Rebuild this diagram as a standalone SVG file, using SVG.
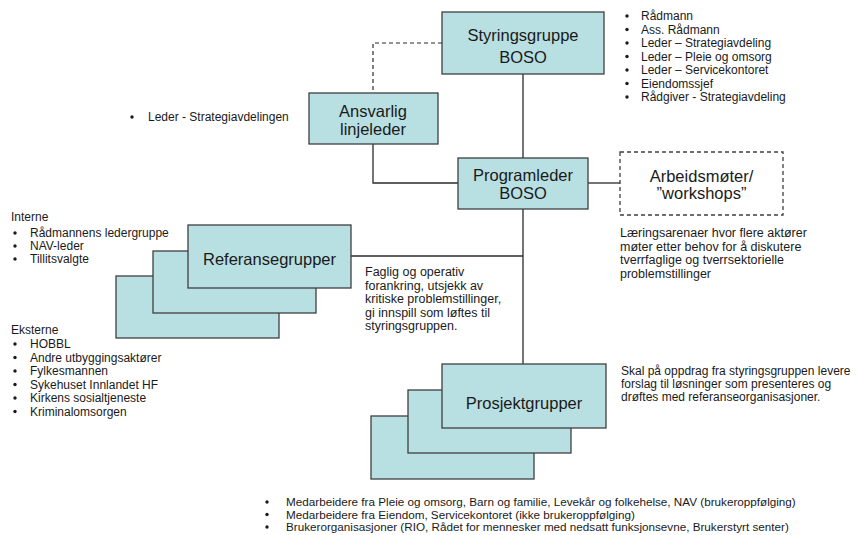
<svg xmlns="http://www.w3.org/2000/svg" width="856" height="535" viewBox="0 0 856 535">
  <style>
    .box { fill: #b8dfe1; stroke: #3f3f3f; stroke-width: 1.3; }
    .dbox { fill: #ffffff; stroke: #3f3f3f; stroke-width: 1.3; stroke-dasharray: 4 3; }
    .line { fill: none; stroke: #2b2b2b; stroke-width: 1.3; }
    .dash { fill: none; stroke: #2b2b2b; stroke-width: 1.2; stroke-dasharray: 4 3; }
    .big { font-family: "Liberation Sans", Arial, sans-serif; font-size: 16.5px; fill: #1a1a1a; text-anchor: middle; }
    .small { font-family: "Liberation Sans", Arial, sans-serif; font-size: 12px; fill: #1a1a1a; }
    .note { font-size: 12.5px; }
    .foot { font-size: 11.7px; }
    .dot { fill: #1a1a1a; }
  </style>
  <rect width="856" height="535" fill="#ffffff"/>

  <!-- connectors -->
  <g id="connectors">
    <path class="dash" d="M442,43 H373 V93"/>
    <path class="line" d="M523,74 V158"/>
    <path class="line" d="M373,144 V183 H458"/>
    <path class="line" d="M588,183 H620"/>
    <path class="line" d="M523,209 V364"/>
    <path class="line" d="M351,256 H523"/>
  </g>

  <!-- steering group -->
  <g id="styringsgruppe">
    <rect class="box" x="442" y="12" width="162" height="62"/>
    <text class="big" x="523" y="41">Styringsgruppe</text>
    <text class="big" x="523" y="63">BOSO</text>
  </g>

  <g id="styringsgruppe-members" class="small">
    <circle class="dot" cx="627" cy="16" r="1.7"/><text x="641" y="20">Rådmann</text>
    <circle class="dot" cx="627" cy="29.5" r="1.7"/><text x="641" y="33.5">Ass. Rådmann</text>
    <circle class="dot" cx="627" cy="43" r="1.7"/><text x="641" y="47">Leder – Strategiavdeling</text>
    <circle class="dot" cx="627" cy="56.5" r="1.7"/><text x="641" y="60.5">Leder – Pleie og omsorg</text>
    <circle class="dot" cx="627" cy="70" r="1.7"/><text x="641" y="74">Leder – Servicekontoret</text>
    <circle class="dot" cx="627" cy="83.5" r="1.7"/><text x="641" y="87.5">Eiendomssjef</text>
    <circle class="dot" cx="627" cy="97" r="1.7"/><text x="641" y="101">Rådgiver - Strategiavdeling</text>
  </g>

  <!-- responsible line manager -->
  <g id="ansvarlig-linjeleder">
    <rect class="box" x="309" y="93" width="129" height="51"/>
    <text class="big" x="373" y="117">Ansvarlig</text>
    <text class="big" x="373" y="135">linjeleder</text>
  </g>
  <g id="linjeleder-members" class="small">
    <circle class="dot" cx="132" cy="117" r="1.7"/><text x="148" y="121">Leder - Strategiavdelingen</text>
  </g>

  <!-- programme manager -->
  <g id="programleder">
    <rect class="box" x="458" y="158" width="130" height="51"/>
    <text class="big" x="523" y="181">Programleder</text>
    <text class="big" x="523" y="199">BOSO</text>
  </g>

  <!-- workshops -->
  <g id="arbeidsmoter">
    <rect class="dbox" x="620" y="152" width="163" height="63"/>
    <text class="big" x="701.5" y="182">Arbeidsmøter/</text>
    <text class="big" x="701.5" y="199">”workshops”</text>
  </g>
  <g id="arbeidsmoter-note" class="small note">
    <text x="620" y="237">Læringsarenaer hvor flere aktører</text>
    <text x="620" y="250.5">møter etter behov for å diskutere</text>
    <text x="620" y="264">tverrfaglige og tverrsektorielle</text>
    <text x="620" y="277.5">problemstillinger</text>
  </g>

  <!-- reference groups -->
  <g id="referansegrupper">
    <rect class="box" x="116" y="276" width="163" height="62"/>
    <rect class="box" x="153" y="251" width="163" height="62"/>
    <rect class="box" x="188" y="225" width="163" height="63"/>
    <text class="big" x="269.5" y="265">Referansegrupper</text>
  </g>
  <g id="referansegrupper-note" class="small note">
    <text x="365" y="276">Faglig og operativ</text>
    <text x="365" y="289.5">forankring, utsjekk av</text>
    <text x="365" y="303">kritiske problemstillinger,</text>
    <text x="365" y="316.5">gi innspill som løftes til</text>
    <text x="365" y="330">styringsgruppen.</text>
  </g>
  <g id="referansegrupper-members" class="small">
    <text x="11" y="221">Interne</text>
    <circle class="dot" cx="15" cy="233" r="1.7"/><text x="30" y="237">Rådmannens ledergruppe</text>
    <circle class="dot" cx="15" cy="246" r="1.7"/><text x="30" y="250">NAV-leder</text>
    <circle class="dot" cx="15" cy="259" r="1.7"/><text x="30" y="263">Tillitsvalgte</text>
    <text x="11" y="334">Eksterne</text>
    <circle class="dot" cx="15" cy="344" r="1.7"/><text x="30" y="348">HOBBL</text>
    <circle class="dot" cx="15" cy="357.5" r="1.7"/><text x="30" y="361.5">Andre utbyggingsaktører</text>
    <circle class="dot" cx="15" cy="371" r="1.7"/><text x="30" y="375">Fylkesmannen</text>
    <circle class="dot" cx="15" cy="384.5" r="1.7"/><text x="30" y="388.5">Sykehuset Innlandet HF</text>
    <circle class="dot" cx="15" cy="398" r="1.7"/><text x="30" y="402">Kirkens sosialtjeneste</text>
    <circle class="dot" cx="15" cy="411.5" r="1.7"/><text x="30" y="415.5">Kriminalomsorgen</text>
  </g>

  <!-- project groups -->
  <g id="prosjektgrupper">
    <rect class="box" x="371" y="416" width="163" height="63"/>
    <rect class="box" x="408" y="390" width="163" height="63"/>
    <rect class="box" x="442" y="364" width="164" height="64"/>
    <text class="big" x="524" y="409">Prosjektgrupper</text>
  </g>
  <g id="prosjektgrupper-note" class="small">
    <text x="621" y="375">Skal på oppdrag fra styringsgruppen levere</text>
    <text x="621" y="388">forslag til løsninger som presenteres og</text>
    <text x="621" y="401">drøftes med referanseorganisasjoner.</text>
  </g>
  <g id="prosjektgrupper-members" class="small foot">
    <circle class="dot" cx="267" cy="502" r="1.7"/><text x="286" y="506">Medarbeidere fra Pleie og omsorg, Barn og familie, Levekår og folkehelse, NAV (brukeroppfølging)</text>
    <circle class="dot" cx="267" cy="514.5" r="1.7"/><text x="286" y="518.5">Medarbeidere fra Eiendom, Servicekontoret (ikke brukeroppfølging)</text>
    <circle class="dot" cx="267" cy="527" r="1.7"/><text x="286" y="531">Brukerorganisasjoner (RIO, Rådet for mennesker med nedsatt funksjonsevne, Brukerstyrt senter)</text>
  </g>
</svg>
